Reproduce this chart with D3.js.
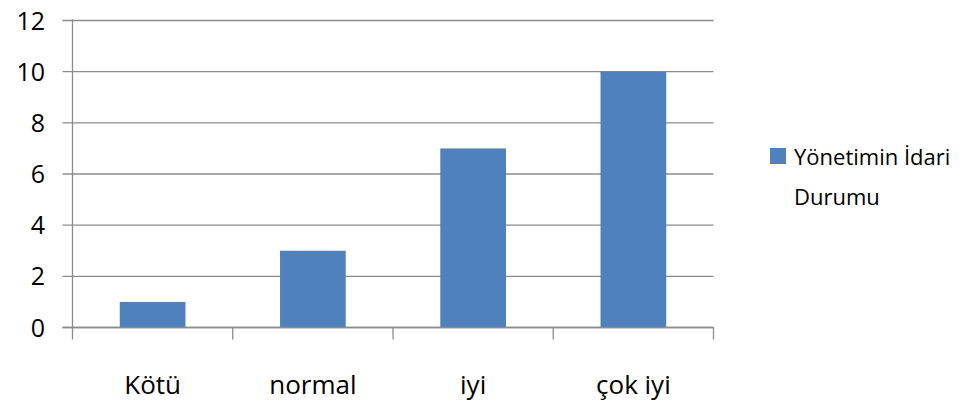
<!DOCTYPE html>
<html><head><meta charset="utf-8">
<script src="https://cdn.jsdelivr.net/npm/d3@7"></script>
<style>body{margin:0;background:#fff}svg{display:block}text{font-family:"Open Sans",sans-serif;fill:#000}</style>
</head><body>
<script>
const categories = ["Kötü", "normal", "iyi", "çok iyi"];
const values = [1, 3, 7, 10];
const yTicks = [0, 2, 4, 6, 8, 10, 12];
const seriesName = ["Yönetimin İdari", "Durumu"];

const W = 976, H = 406;
const svg = d3.select("body").append("svg").attr("width", W).attr("height", H);
const m = {l: 72.5, r: 713.5, t: 20.5, b: 327.5};
const x = d3.scaleBand().domain(categories).range([m.l, m.r]);
const y = d3.scaleLinear().domain([0, 12]).range([m.b, m.t]);
const grid = "#8c8c8c";

// gridlines + left ticks
svg.append("g").selectAll("line").data(yTicks).join("line")
  .attr("x1", m.l - 10).attr("x2", m.r).attr("y1", d => y(d)).attr("y2", d => y(d))
  .attr("stroke", grid).attr("stroke-width", 1.3);

// bars
const bw = x.bandwidth() * 0.41;
svg.append("g").selectAll("rect").data(values).join("rect")
  .attr("x", (d, i) => x(categories[i]) + x.bandwidth() / 2 - bw / 2)
  .attr("width", bw)
  .attr("y", d => y(d)).attr("height", d => y(0) - y(d))
  .attr("fill", "#4f81bd");

// y axis line
svg.append("line").attr("x1", m.l).attr("x2", m.l).attr("y1", m.t - 1).attr("y2", m.b + 12)
  .attr("stroke", grid).attr("stroke-width", 1.3);
// x axis baseline
svg.append("line").attr("x1", m.l - 10).attr("x2", m.r).attr("y1", y(0)).attr("y2", y(0))
  .attr("stroke", grid).attr("stroke-width", 1.3);
// x boundary ticks
const bounds = categories.map(c => x(c)).concat([m.r]);
svg.append("g").selectAll("line").data(bounds.slice(1)).join("line")
  .attr("x1", d => d).attr("x2", d => d).attr("y1", y(0)).attr("y2", y(0) + 12)
  .attr("stroke", grid).attr("stroke-width", 1.3);

// y labels
svg.append("g").selectAll("text").data(yTicks).join("text")
  .attr("x", 45).attr("y", d => y(d)).attr("dy", "0.36em")
  .attr("text-anchor", "end").attr("font-size", 25).text(d => d);

// x labels
svg.append("g").selectAll("text").data(categories).join("text")
  .attr("x", d => x(d) + x.bandwidth() / 2).attr("y", 394)
  .attr("text-anchor", "middle").attr("font-size", 26).text(d => d);

// legend
svg.append("rect").attr("x", 770).attr("y", 148).attr("width", 16).attr("height", 16).attr("fill", "#4f81bd");
svg.append("g").selectAll("text").data(seriesName).join("text")
  .attr("x", d => 794).attr("y", (d, i) => 165 + i * 40)
  .attr("font-size", 22).text(d => d);
</script>
</body></html>
